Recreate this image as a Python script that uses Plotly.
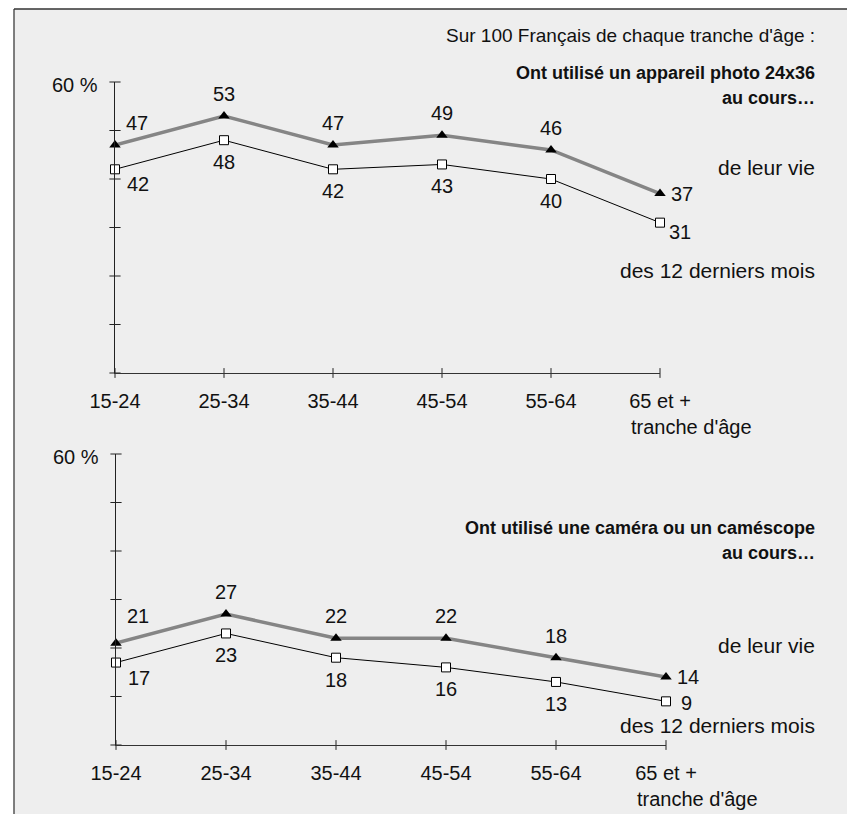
import plotly.graph_objects as go

# ---- data ----
age_groups = ["15-24", "25-34", "35-44", "45-54", "55-64", "65 et +"]
photo_vie = [47, 53, 47, 49, 46, 37]
photo_12mois = [42, 48, 42, 43, 40, 31]
camera_vie = [21, 27, 22, 22, 18, 14]
camera_12mois = [17, 23, 18, 16, 13, 9]
y_ticks = [0, 10, 20, 30, 40, 50, 60]

# the page body has an 8px margin: the figure is drawn 8px in from the window corner
OFF = 8
W, H = 855 - OFF, 814 - OFF
REG = "Liberation Sans, Arial, sans-serif"
BOLD = "Liberation Sans, Arial, sans-serif"
BG = "#eeeeee"


def px(x):
    return (x - OFF) / W


def py(y):
    return 1 - (y - OFF) / H


fig = go.Figure()

panels = [
    dict(xa="x", ya="y", xdom=(115, 660), ydom=(373, 82), vie=photo_vie, mois=photo_12mois,
         sq_last=-9, tri_first=22),
    dict(xa="x2", ya="y2", xdom=(116, 666), ydom=(745, 454), vie=camera_vie, mois=camera_12mois,
         sq_last=-2, tri_first=27),
]

xs = list(range(len(age_groups)))
annotations = []

for i, p in enumerate(panels):
    xa, ya = p["xa"], p["ya"]
    # axis cross ticks
    fig.add_trace(go.Scatter(x=[0] * len(y_ticks), y=y_ticks, xaxis=xa, yaxis=ya, mode="markers",
                             marker=dict(symbol="line-ew", size=8, line=dict(width=1, color="#222")),
                             hoverinfo="skip", showlegend=False, cliponaxis=False))
    fig.add_trace(go.Scatter(x=xs, y=[0] * len(xs), xaxis=xa, yaxis=ya, mode="markers",
                             marker=dict(symbol="line-ns", size=7, line=dict(width=1, color="#222")),
                             hoverinfo="skip", showlegend=False, cliponaxis=False))
    # 12 derniers mois
    fig.add_trace(go.Scatter(x=xs, y=p["mois"], xaxis=xa, yaxis=ya, mode="lines+markers",
                             line=dict(color="black", width=1),
                             marker=dict(symbol="square", size=9, color="white",
                                         line=dict(color="black", width=1)),
                             showlegend=False, cliponaxis=False))
    # de leur vie
    fig.add_trace(go.Scatter(x=xs, y=p["vie"], xaxis=xa, yaxis=ya, mode="lines+markers",
                             line=dict(color="#858585", width=3.5),
                             marker=dict(symbol="triangle-up", size=10, color="black"),
                             showlegend=False, cliponaxis=False))
    n = len(xs)
    for j in range(n):
        if j == 0:
            tx, ty = 22, p["tri_first"]
            sx, sy = 23, -15
        elif j == n - 1:
            tx, ty = 22, 0
            sx, sy = 20, p["sq_last"]
        else:
            tx, ty = 0, 22
            sx, sy = 0, -22
        annotations.append(dict(x=xs[j], y=p["vie"][j], xref=xa, yref=ya, text=str(p["vie"][j]),
                                showarrow=False, xshift=tx, yshift=ty,
                                font=dict(family=REG, size=20, color="#111")))
        annotations.append(dict(x=xs[j], y=p["mois"][j], xref=xa, yref=ya, text=str(p["mois"][j]),
                                showarrow=False, xshift=sx, yshift=sy,
                                font=dict(family=REG, size=20, color="#111")))
    # 60 % label
    annotations.append(dict(x=0, y=60, xref=xa, yref=ya, text="60 %", showarrow=False,
                            xanchor="right", xshift=-15, yshift=-3,
                            font=dict(family=REG, size=20, color="#111")))
    # tranche d'âge
    annotations.append(dict(x=xs[-1], y=0, xref=xa, yref=ya, text="tranche d'âge", showarrow=False,
                            xanchor="left", yanchor="middle", xshift=-31, yshift=-54,
                            font=dict(family=REG, size=20, color="#111")))

    axis_x = dict(domain=[px(p["xdom"][0]), px(p["xdom"][1])], range=[0, 5], showgrid=False,
                  zeroline=False, showline=True, linecolor="#333", linewidth=1,
                  tickmode="array", tickvals=xs, ticktext=age_groups, ticks="",
                  ticklabelstandoff=10, automargin=False,
                  tickfont=dict(family=REG, size=20, color="#111"), anchor=ya, fixedrange=True)
    axis_y = dict(domain=[py(p["ydom"][0]), py(p["ydom"][1])], range=[0, 60], showgrid=False,
                  zeroline=False, showline=True, linecolor="#222", linewidth=1, automargin=False,
                  showticklabels=False, ticks="", anchor=xa, fixedrange=True)
    if i == 0:
        fig.update_layout(xaxis=axis_x, yaxis=axis_y)
    else:
        fig.update_layout(xaxis2=axis_x, yaxis2=axis_y)

# side texts
RX = px(817)


def side(text, y, size, family, bold=False):
    annotations.append(dict(x=RX, y=py(y), xref="paper", yref="paper", xanchor="right",
                            yanchor="middle", showarrow=False,
                            text=f"<b>{text}</b>" if bold else text,
                            font=dict(family=family, size=size, color="#111")))


side("Sur 100 Français de chaque tranche d'âge :", 35, 19, REG)
side("Ont utilisé un appareil photo 24x36", 73, 18, BOLD, True)
side("au cours…", 98, 18, BOLD, True)
side("de leur vie", 167, 21, REG)
side("des 12 derniers mois", 270, 21, REG)
side("Ont utilisé une caméra ou un caméscope", 528, 18, BOLD, True)
side("au cours…", 553, 18, BOLD, True)
side("de leur vie", 645, 21, REG)
side("des 12 derniers mois", 725, 21, REG)

shapes = [
    dict(type="rect", xref="paper", yref="paper", x0=px(14), x1=px(853), y0=0, y1=py(9),
         fillcolor=BG, line=dict(width=0), layer="below"),
    dict(type="line", xref="paper", yref="paper", x0=px(14), x1=px(14), y0=0, y1=py(9),
         line=dict(color="#555", width=1.5), layer="below"),
    dict(type="line", xref="paper", yref="paper", x0=px(14), x1=1, y0=py(9), y1=py(9),
         line=dict(color="#333", width=1.5), layer="below"),
    dict(type="line", xref="paper", yref="paper", x0=px(853), x1=px(853), y0=0, y1=py(9),
         line=dict(color="#d0d0d0", width=1), layer="below"),
]

fig.update_layout(width=W, height=H, margin=dict(l=0, r=0, t=0, b=0, autoexpand=False),
                  paper_bgcolor="white", plot_bgcolor="rgba(0,0,0,0)",
                  annotations=annotations, shapes=shapes, showlegend=False,
                  font=dict(family=REG, color="#111"))

fig.write_html("out.html")
